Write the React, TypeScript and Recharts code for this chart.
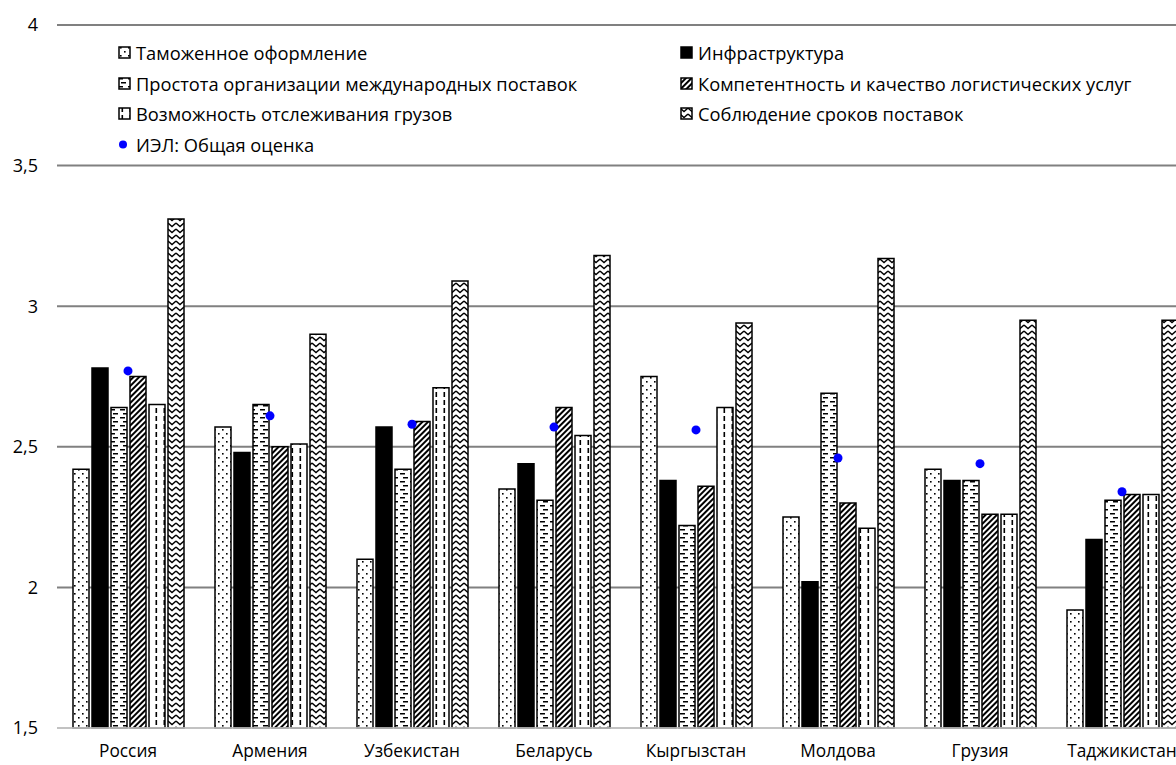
import React from 'react';
import { ComposedChart, Bar, Line, XAxis, YAxis, CartesianGrid } from 'recharts';

const countries = ['Россия', 'Армения', 'Узбекистан', 'Беларусь', 'Кыргызстан', 'Молдова', 'Грузия', 'Таджикистан'];
const customs = [2.42, 2.57, 2.10, 2.35, 2.75, 2.25, 2.42, 1.92];
const infrastructure = [2.78, 2.48, 2.57, 2.44, 2.38, 2.02, 2.38, 2.17];
const shipments = [2.64, 2.65, 2.42, 2.31, 2.22, 2.69, 2.38, 2.31];
const competence = [2.75, 2.50, 2.59, 2.64, 2.36, 2.30, 2.26, 2.33];
const tracking = [2.65, 2.51, 2.71, 2.54, 2.64, 2.21, 2.26, 2.33];
const timeliness = [3.31, 2.90, 3.09, 3.18, 2.94, 3.17, 2.95, 2.95];
const overall = [2.77, 2.61, 2.58, 2.57, 2.56, 2.46, 2.44, 2.34];
const yTicks = [1.5, 2, 2.5, 3, 3.5, 4];

const barSeries = [
  { key: 'customs', name: 'Таможенное оформление', fill: 'url(#pDots)' },
  { key: 'infrastructure', name: 'Инфраструктура', fill: '#000000' },
  { key: 'shipments', name: 'Простота организации международных поставок', fill: 'url(#pHDash)' },
  { key: 'competence', name: 'Компетентность и качество логистических услуг', fill: 'url(#pDiag)' },
  { key: 'tracking', name: 'Возможность отслеживания грузов', fill: 'url(#pVDash)' },
  { key: 'timeliness', name: 'Соблюдение сроков поставок', fill: 'url(#pZig)' },
];
const overallName = 'ИЭЛ: Общая оценка';

const data = countries.map((c, i) => ({
  country: c,
  customs: customs[i],
  infrastructure: infrastructure[i],
  shipments: shipments[i],
  competence: competence[i],
  tracking: tracking[i],
  timeliness: timeliness[i],
  overall: overall[i],
}));

const FONT = '"Open Sans", "Noto Sans", sans-serif';

const Patterns = () => (
  <svg width={0} height={0} style={{ position: 'absolute' }}>
    <defs>
      <pattern id="pDots" width={8} height={8} patternUnits="userSpaceOnUse">
        <rect width={8} height={8} fill="#fff" />
        <rect x={2} y={1} width={1.6} height={1.6} fill="#000" />
        <rect x={6} y={5} width={1.6} height={1.6} fill="#000" />
      </pattern>
      <pattern id="pHDash" width={10} height={8} patternUnits="userSpaceOnUse">
        <rect width={10} height={8} fill="#fff" />
        <rect x={0} y={1} width={5} height={1.5} fill="#000" />
        <rect x={3} y={5} width={5} height={1.5} fill="#000" />
      </pattern>
      <pattern id="pDiag" width={4} height={4} patternUnits="userSpaceOnUse" patternTransform="rotate(45)">
        <rect width={4} height={4} fill="#fff" />
        <rect x={0} y={0} width={2} height={4} fill="#000" />
      </pattern>
      <pattern id="pVDash" width={8} height={8} patternUnits="userSpaceOnUse">
        <rect width={8} height={8} fill="#fff" />
        <rect x={3.5} y={0} width={1.6} height={5} fill="#000" />
      </pattern>
      <pattern id="pZig" width={8} height={6} patternUnits="userSpaceOnUse">
        <rect width={8} height={6} fill="#fff" />
        <path d="M0,1 L4,4.5 L8,1" stroke="#000" strokeWidth={1.4} fill="none" />
      </pattern>
    </defs>
  </svg>
);

const Marker = ({ fill }: { fill: string }) => (
  <svg width={13} height={13} style={{ display: 'block', marginRight: 5, flexShrink: 0 }}>
    <rect x={1} y={1} width={11} height={11} fill={fill} stroke="#000" strokeWidth={1.5} />
  </svg>
);

const LegendOverlay = () => {
  const rows: any[] = [];
  for (let r = 0; r < 3; r++) {
    rows.push([barSeries[r * 2], barSeries[r * 2 + 1]]);
  }
  const itemStyle: React.CSSProperties = {
    display: 'flex', alignItems: 'center', height: 30.7, fontFamily: FONT, fontSize: 18.3, color: '#000', whiteSpace: 'nowrap',
  };
  return (
    <div style={{ position: 'absolute', left: 118, top: 37, width: 1058 }}>
      {rows.map((row, ri) => (
        <div key={ri} style={{ display: 'flex' }}>
          {row.map((s: any, ci: number) => (
            <div key={s.key} style={{ ...itemStyle, width: ci === 0 ? 562 : 490, flexShrink: 0 }}>
              <Marker fill={s.fill} />
              <span>{s.name}</span>
            </div>
          ))}
        </div>
      ))}
      <div style={itemStyle}>
        <svg width={13} height={13} style={{ display: 'block', marginRight: 5 }}>
          <circle cx={5} cy={6.5} r={4} fill="#0000ff" />
        </svg>
        <span>{overallName}</span>
      </div>
    </div>
  );
};

export default function App() {
  return (
    <div style={{ position: 'fixed', left: 0, top: 0, width: 1176, height: 765, overflow: 'hidden', background: '#fff' }}>
      <Patterns />
      <ComposedChart
        width={1200}
        height={765}
        data={data}
        margin={{ top: 25, right: 7, bottom: 0, left: 0 }}
        barSize={16}
        barGap={3}
      >
        <CartesianGrid vertical={false} stroke="#808080" strokeWidth={2} />
        <XAxis
          dataKey="country"
          axisLine={{ stroke: '#d9d9d9', strokeWidth: 1.5 }}
          tickLine={false}
          tickSize={0}
          tickMargin={17}
          height={37}
          interval={0}
          tick={{ fill: '#000', fontFamily: FONT, fontSize: 17.3 }}
        />
        <YAxis
          domain={[1.5, 4]}
          ticks={yTicks}
          axisLine={false}
          tickLine={false}
          tickSize={0}
          tickMargin={19}
          width={57}
          tickFormatter={(v: number) => String(v).replace('.', ',')}
          tick={{ fill: '#000', fontFamily: FONT, fontSize: 18 }}
        />
        {barSeries.map((s) => (
          <Bar
            key={s.key}
            dataKey={s.key}
            name={s.name}
            fill={s.fill}
            stroke="#000"
            strokeWidth={1.5}
            isAnimationActive={false}
          />
        ))}
        <Line
          dataKey="overall"
          name={overallName}
          stroke="none"
          legendType="circle"
          dot={{ r: 4.5, fill: '#0000ff', stroke: 'none' }}
          activeDot={false}
          isAnimationActive={false}
        />
      </ComposedChart>
      <LegendOverlay />
    </div>
  );
}
